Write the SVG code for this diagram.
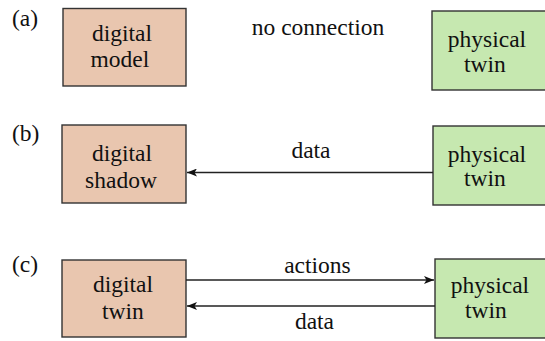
<svg xmlns="http://www.w3.org/2000/svg" id="r" width="545" height="341" viewBox="0 0 545 341">
<style>
#r text, #r g text, #r g[id] text, #r g g[id] text{font-family:'Liberation Serif',serif !important}
.dig{fill:#E9C6AF;stroke:#333;stroke-width:1.4}
.phy{fill:#C6E8B0;stroke:#333;stroke-width:1.4}
.ln{stroke:#222;stroke-width:1.3;fill:none}
</style>
<defs>
<marker id="ah" viewBox="0 0 10 8" refX="10" refY="4" markerWidth="10" markerHeight="8" markerUnits="userSpaceOnUse" orient="auto">
<path d="M0,0 L10,4 L0,8 L2.5,4 Z" fill="#111"/>
</marker>
</defs>
<g font-family="Liberation Serif" font-size="23.5" fill="#111">
<text x="12" y="26">(a)</text>
<text x="12" y="141">(b)</text>
<text x="12" y="272">(c)</text>
<g id="digital-model">
<rect class="dig" x="63" y="8.5" width="123" height="77.5"/>
<text x="92" y="41">digital</text>
<text x="90.6" y="67">model</text>
</g>
<g id="physical-twin-a">
<rect class="phy" x="432" y="11" width="125" height="79"/>
<text x="447.8" y="47">physical</text>
<text x="464.1" y="72">twin</text>
</g>
<g id="digital-shadow">
<rect class="dig" x="62" y="125" width="124" height="78"/>
<text x="92" y="161">digital</text>
<text x="85.1" y="188">shadow</text>
</g>
<g id="physical-twin-b">
<rect class="phy" x="433" y="126" width="125" height="79"/>
<text x="447.8" y="162">physical</text>
<text x="464.1" y="186">twin</text>
</g>
<g id="digital-twin">
<rect class="dig" x="62" y="260" width="124" height="77"/>
<text x="93" y="292">digital</text>
<text x="102.1" y="319">twin</text>
</g>
<g id="physical-twin-c">
<rect class="phy" x="435" y="259" width="125" height="79"/>
<text x="450.8" y="293">physical</text>
<text x="465.1" y="318">twin</text>
</g>
<g id="connectors">
<text x="251.8" y="35">no connection</text>
<line class="ln" x1="433" y1="172.5" x2="187" y2="172.5" marker-end="url(#ah)"/>
<text x="291.4" y="158">data</text>
<line class="ln" x1="186" y1="280" x2="434" y2="280" marker-end="url(#ah)"/>
<text x="284.2" y="273">actions</text>
<line class="ln" x1="435" y1="306" x2="187" y2="306" marker-end="url(#ah)"/>
<text x="294.9" y="329">data</text>
</g>
</g>
</svg>
